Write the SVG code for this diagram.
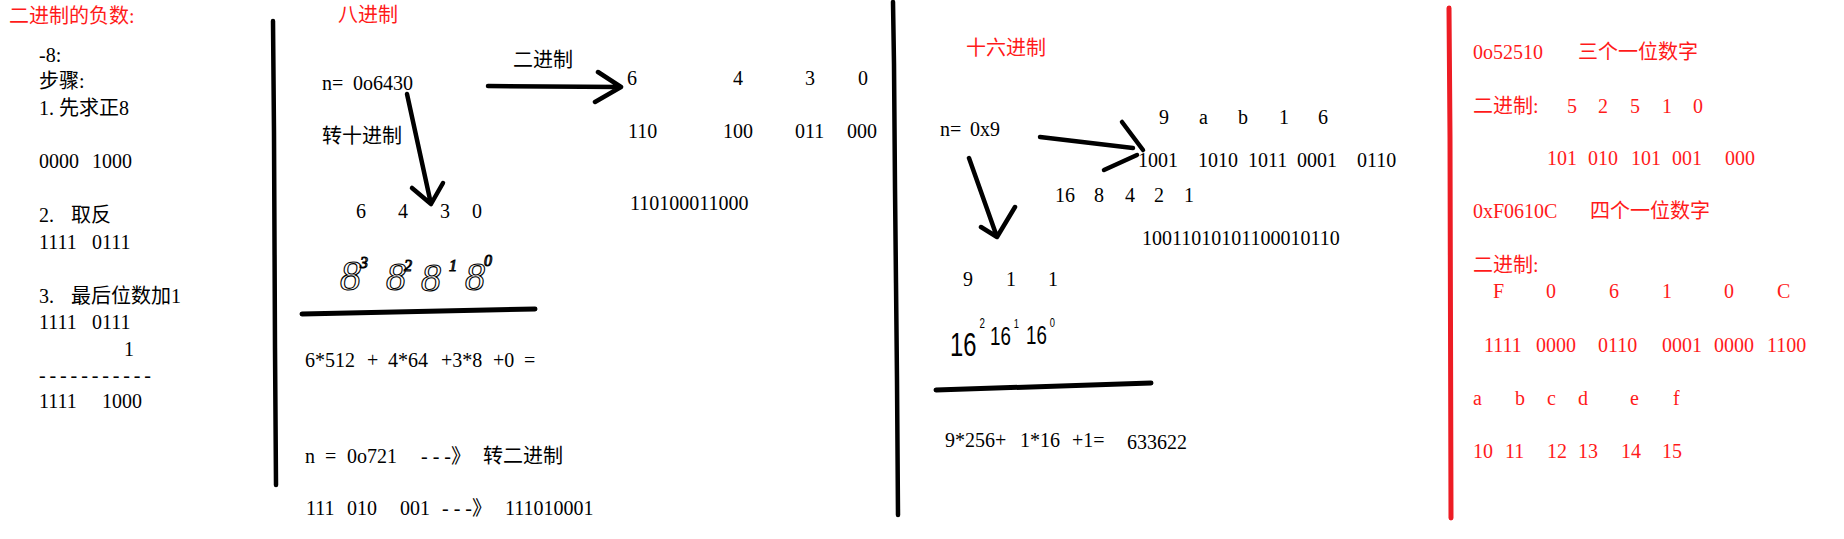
<svg xmlns="http://www.w3.org/2000/svg" width="1844" height="539" viewBox="0 0 1844 539">
<style>
text{font-family:"Liberation Serif","Noto Sans CJK SC",serif;font-size:20px;fill:#000}
.r{fill:#ff1a1a}
.hw{font-family:"Liberation Serif","Noto Sans CJK SC",serif;font-style:italic;fill:none;stroke:#000;stroke-width:1.1}
.hw2{font-family:"Liberation Sans",sans-serif;fill:#000;font-weight:normal}
.ln{fill:none;stroke:#000;stroke-width:4.5;stroke-linecap:round;stroke-linejoin:round}
.rl{fill:none;stroke:#ed1c24;stroke-width:5;stroke-linecap:round}
</style>
<rect width="1844" height="539" fill="#fff"/>

<g id="dividers">
<polyline class="ln" points="273,21 274,133 275,348 276,485"/>
<polyline class="ln" points="893,2 894,64 895,188 896,283 897,380 898,515"/>
<polyline class="rl" points="1449,8 1450,138 1451,518"/>
<polyline class="ln" style="stroke-width:5" points="302,314 535,309"/>
<polyline class="ln" style="stroke-width:5" points="936,390 1151,383"/>
</g>

<g id="connectors">
<path class="ln" d="M488,86 L620,87 M598,72 L621,87 L595,102"/>
<path class="ln" d="M407,94 L431,204 M412,188 L431,204 L443,183"/>
<path class="ln" d="M1040,137 L1133,148 M1122,122 L1143,150 M1137,155 L1104,170"/>
<path class="ln" d="M969,158 L997,237 M981,227 L997,237 L1015,207"/>
</g>

<g id="negative">
<text class="r" x="9" y="23">二进制的负数:</text>
<text x="39" y="62">-8:</text>
<text x="39" y="88">步骤:</text>
<text x="39" y="115">1.</text><text x="59" y="115">先求正8</text>
<text x="39" y="168">0000</text><text x="92" y="168">1000</text>
<text x="39" y="222">2.</text><text x="71" y="222">取反</text>
<text x="39" y="249">1111</text><text x="92" y="249">0111</text>
<text x="39" y="303">3.</text><text x="71" y="303">最后位数加1</text>
<text x="39" y="329">1111</text><text x="92" y="329">0111</text>
<text x="124" y="356">1</text>
<text x="39" y="382" textLength="112" lengthAdjust="spacing">-----------</text>
<text x="39" y="408">1111</text><text x="102" y="408">1000</text>
</g>

<g id="octal">
<text class="r" x="338" y="22">八进制</text>
<text x="322" y="90">n=</text><text x="353" y="90">0o6430</text>
<text x="513" y="67">二进制</text>
<text x="322" y="143">转十进制</text>
<text x="356" y="218">6</text><text x="398" y="218">4</text><text x="440" y="218">3</text><text x="472" y="218">0</text>
<text class="hw" style="font-size:42px" x="340" y="290">8<tspan x="360" y="268" style="font-size:16px">3</tspan></text>
<text class="hw" style="font-size:40px" x="386" y="290">8<tspan x="404" y="271" style="font-size:16px">2</tspan></text>
<text class="hw" style="font-size:40px" x="421" y="291">8<tspan x="449" y="271" style="font-size:16px">1</tspan></text>
<text class="hw" style="font-size:40px" x="465" y="290">8<tspan x="484" y="266" style="font-size:16px">0</tspan></text>
<text x="627" y="85">6</text><text x="733" y="85">4</text><text x="805" y="85">3</text><text x="858" y="85">0</text>
<text x="628" y="138">110</text><text x="723" y="138">100</text><text x="795" y="138">011</text><text x="847" y="138">000</text>
<text x="630" y="210">110100011000</text>
<text x="305" y="367">6*512</text><text x="367" y="367">+</text><text x="388" y="367">4*64</text><text x="441" y="367">+3*8</text><text x="493" y="367">+0</text><text x="524" y="367">=</text>
<text x="305" y="463">n</text><text x="325" y="463">=</text><text x="347" y="463">0o721</text><text x="421" y="463" textLength="30" lengthAdjust="spacing">---</text><text x="451" y="463">》</text><text x="483" y="463">转二进制</text>
<text x="306" y="515">111</text><text x="347" y="515">010</text><text x="400" y="515">001</text><text x="442" y="515" textLength="30" lengthAdjust="spacing">---</text><text x="472" y="515">》</text><text x="505" y="515">111010001</text>
</g>

<g id="hex">
<text class="r" x="966" y="55">十六进制</text>
<text x="940" y="136">n=</text><text x="970" y="136">0x9</text>
<text x="1159" y="124">9</text><text x="1199" y="124">a</text><text x="1238" y="124">b</text><text x="1279" y="124">1</text><text x="1318" y="124">6</text>
<text x="1138" y="167">1001</text><text x="1198" y="167">1010</text><text x="1248" y="167">1011</text><text x="1297" y="167">0001</text><text x="1357" y="167">0110</text>
<text x="1055" y="202">16</text><text x="1094" y="202">8</text><text x="1125" y="202">4</text><text x="1154" y="202">2</text><text x="1184" y="202">1</text>
<text x="1142" y="245">10011010101100010110</text>
<text x="963" y="286">9</text><text x="1006" y="286">1</text><text x="1048" y="286">1</text>
<text class="hw2" style="font-size:34px" transform="translate(950,356) scale(0.7,1)" x="0" y="0">16<tspan x="42" y="-28" style="font-size:14px">2</tspan></text>
<text class="hw2" style="font-size:26px" transform="translate(990,345) scale(0.72,1)" x="0" y="0">16<tspan x="33" y="-17" style="font-size:13px">1</tspan></text>
<text class="hw2" style="font-size:26px" transform="translate(1026,344) scale(0.72,1)" x="0" y="0">16<tspan x="33" y="-17" style="font-size:13px">0</tspan></text>
<text x="945" y="447">9*256+</text><text x="1020" y="447">1*16</text><text x="1072" y="447">+1=</text>
<text x="1127" y="449">633622</text>
</g>

<g id="notes">
<text class="r" x="1473" y="59">0o52510</text><text class="r" x="1578" y="59">三个一位数字</text>
<text class="r" x="1473" y="113">二进制:</text>
<text class="r" x="1567" y="113">5</text><text class="r" x="1598" y="113">2</text><text class="r" x="1630" y="113">5</text><text class="r" x="1662" y="113">1</text><text class="r" x="1693" y="113">0</text>
<text class="r" x="1547" y="165">101</text><text class="r" x="1588" y="165">010</text><text class="r" x="1631" y="165">101</text><text class="r" x="1672" y="165">001</text><text class="r" x="1725" y="165">000</text>
<text class="r" x="1473" y="218">0xF0610C</text><text class="r" x="1590" y="218">四个一位数字</text>
<text class="r" x="1473" y="272">二进制:</text>
<text class="r" x="1493" y="298">F</text><text class="r" x="1546" y="298">0</text><text class="r" x="1609" y="298">6</text><text class="r" x="1662" y="298">1</text><text class="r" x="1724" y="298">0</text><text class="r" x="1777" y="298">C</text>
<text class="r" x="1484" y="352">1111</text><text class="r" x="1536" y="352">0000</text><text class="r" x="1598" y="352">0110</text><text class="r" x="1662" y="352">0001</text><text class="r" x="1714" y="352">0000</text><text class="r" x="1767" y="352">1100</text>
<text class="r" x="1473" y="405">a</text><text class="r" x="1515" y="405">b</text><text class="r" x="1547" y="405">c</text><text class="r" x="1578" y="405">d</text><text class="r" x="1630" y="405">e</text><text class="r" x="1673" y="405">f</text>
<text class="r" x="1473" y="458">10</text><text class="r" x="1505" y="458">11</text><text class="r" x="1547" y="458">12</text><text class="r" x="1578" y="458">13</text><text class="r" x="1621" y="458">14</text><text class="r" x="1662" y="458">15</text>
</g>
</svg>
